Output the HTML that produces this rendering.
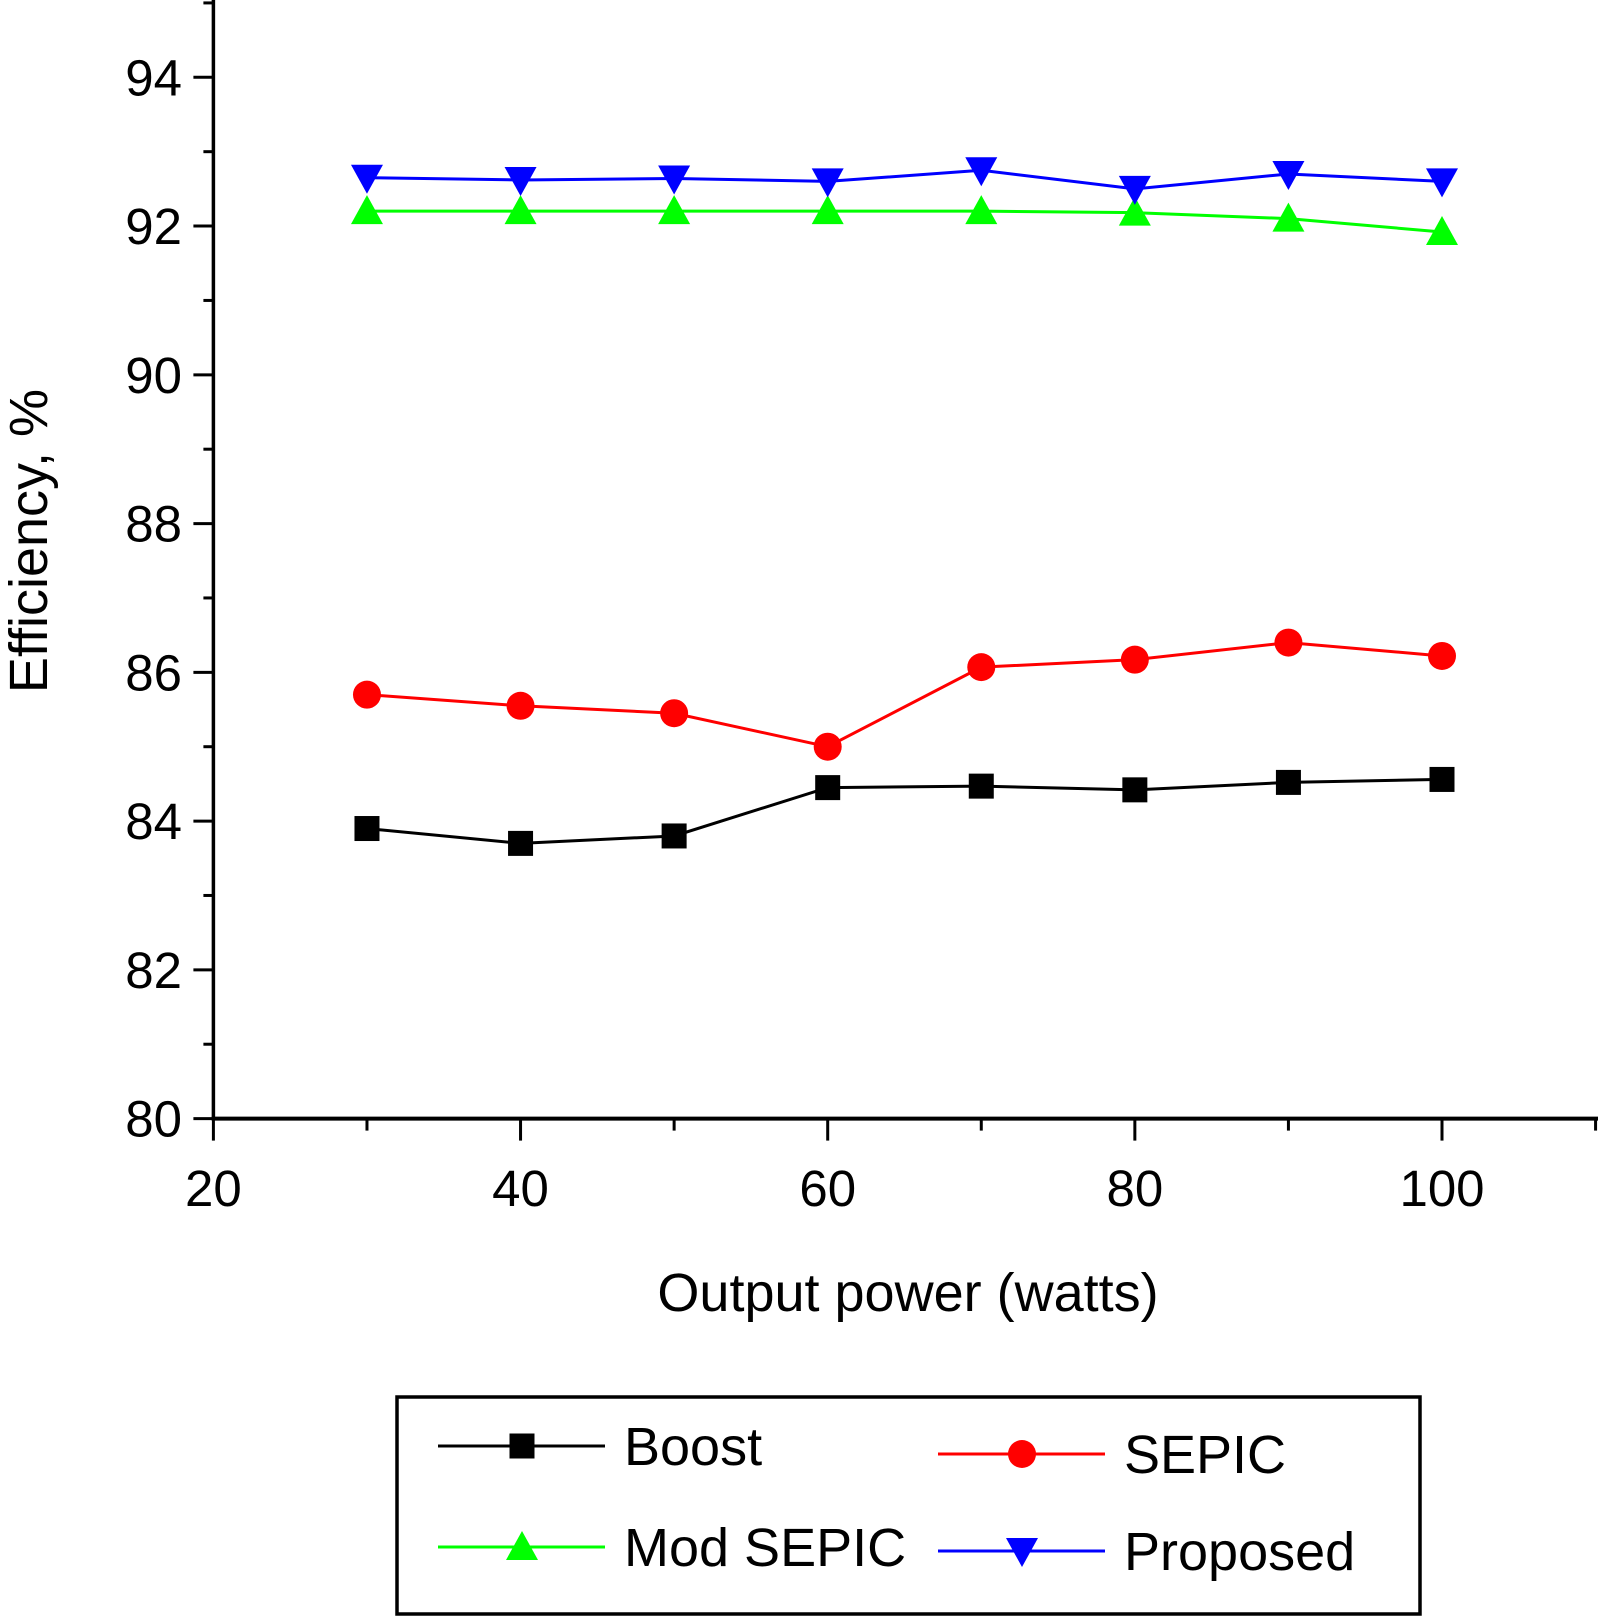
<!DOCTYPE html>
<html><head><meta charset="utf-8"><style>html,body{margin:0;padding:0;background:#fff}svg{display:block}text{font-family:"Liberation Sans",sans-serif;fill:#000}</style></head>
<body>
<svg id="chart" width="1600" height="1616" xmlns="http://www.w3.org/2000/svg"></svg>
<script>
const categories=[30,40,50,60,70,80,90,100];
const boost=[83.9,83.7,83.8,84.45,84.47,84.42,84.52,84.56];
const sepic=[85.7,85.55,85.45,85.0,86.07,86.17,86.4,86.22];
const modSepic=[92.2,92.2,92.2,92.2,92.2,92.18,92.1,91.92];
const proposed=[92.65,92.62,92.64,92.6,92.75,92.5,92.7,92.6];
const xTicks=[20,40,60,80,100];
const yTicks=[80,82,84,86,88,90,92,94];

const svg=document.getElementById('chart');
const NS='http://www.w3.org/2000/svg';
function xs(v){return 213.4+(v-20)*(1442-213.4)/80;}
function ys(v){return 1118.6-(v-80)*(1118.6-77.3)/14;}
function mk(tag,attrs,parent){const e=document.createElementNS(NS,tag);for(const k in attrs)e.setAttribute(k,attrs[k]);(parent||svg).appendChild(e);return e;}

let a=mk('line',{x1:213.4,y1:0,x2:213.4,y2:1118.6,stroke:'#000','stroke-width':3.5});


a=mk('line',{x1:211.6,y1:1118.6,x2:1598,y2:1118.6,stroke:'#000','stroke-width':4});



for(let v=80;v<=95;v++){
  const maj=(v%2===0);
  const t=mk('line',{x1:213.4-(maj?20:10),y1:ys(v),x2:213.4,y2:ys(v),stroke:'#000','stroke-width':3});
  
  
}
yTicks.forEach(v=>{
  const t=mk('text',{x:182,y:ys(v)+18,'text-anchor':'end','font-size':51});
  t.textContent=v;
  
  
});
for(let v=20;v<=110;v+=10){
  const maj=(v%20===0);
  const t=mk('line',{x1:xs(v),y1:1118.6,x2:xs(v),y2:1118.6+(maj?22:12),stroke:'#000','stroke-width':3});
  
  
}
xTicks.forEach(v=>{
  const t=mk('text',{x:xs(v),y:1206,'text-anchor':'middle','font-size':51});
  t.textContent=v;
  
  
});
let tt=mk('text',{x:908,y:1311,'text-anchor':'middle','font-size':54});
tt.textContent='Output power (watts)';


tt=mk('text',{x:0,y:0,'text-anchor':'middle','font-size':54,transform:'translate(47,541) rotate(-90)'});
tt.textContent='Efficiency, %';



function marker(type,cx,cy,color,parent){
  let m;
  if(type==='square')m=mk('rect',{x:cx-12.5,y:cy-12.5,width:25,height:25,fill:color},parent);
  else if(type==='circle')m=mk('circle',{cx:cx,cy:cy,r:14,fill:color},parent);
  else if(type==='up')m=mk('polygon',{points:`${cx-16},${cy+13} ${cx+16},${cy+13} ${cx},${cy-16}`,fill:color},parent);
  else m=mk('polygon',{points:`${cx-16},${cy-13} ${cx+16},${cy-13} ${cx},${cy+16}`,fill:color},parent);
  return m;
}
const series=[
  {name:'boost',vals:boost,color:'#000',type:'square'},
  {name:'sepic',vals:sepic,color:'#f00',type:'circle'},
  {name:'mod-sepic',vals:modSepic,color:'#0f0',type:'up'},
  {name:'proposed',vals:proposed,color:'#00f',type:'down'}
];
series.forEach(s=>{
  const g=mk('g',{});
  
  
  const pl=mk('polyline',{points:s.vals.map((v,i)=>xs(categories[i])+','+ys(v)).join(' '),fill:'none',stroke:s.color,'stroke-width':3},g);
  
  
  s.vals.forEach((v,i)=>{
    const m=marker(s.type,xs(categories[i]),ys(v),s.color,g);
    
    
  });
});
const lg=mk('g',{});


const box=mk('rect',{x:397,y:1397,width:1023,height:217,fill:'none',stroke:'#000','stroke-width':3.5},lg);


const entries=[
  {label:'Boost',s:series[0],x:438,y:1446},
  {label:'SEPIC',s:series[1],x:938,y:1454},
  {label:'Mod SEPIC',s:series[2],x:438,y:1547},
  {label:'Proposed',s:series[3],x:938,y:1551}
];
entries.forEach(e=>{
  const g=mk('g',{},lg);
  
  
  mk('line',{x1:e.x,y1:e.y,x2:e.x+167,y2:e.y,stroke:e.s.color,'stroke-width':3},g);
  marker(e.s.type,e.x+84,e.y,e.s.color,g);
  const t=mk('text',{x:e.x+186,y:e.y+19,'font-size':54},g);
  t.textContent=e.label;
});
</script>
</body></html>
